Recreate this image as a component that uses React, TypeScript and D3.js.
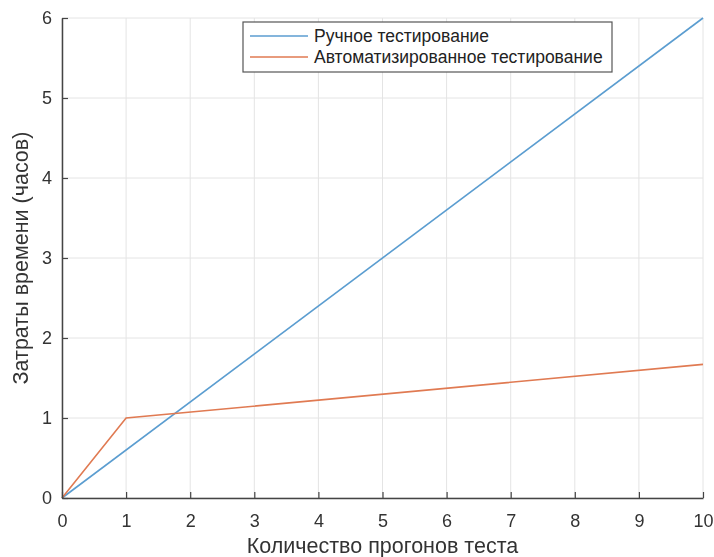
import React, { useRef, useEffect } from 'react';
import * as d3 from 'd3';

// data
const runs = [0, 1, 2, 3, 4, 5, 6, 7, 8, 9, 10];
const manualX = [0, 10];
const manualY = [0, 6];
const autoX = [0, 1, 10];
const autoY = [0, 1, 1.67];
const seriesNames = ['Ручное тестирование', 'Автоматизированное тестирование'];
const yTicks = [0, 1, 2, 3, 4, 5, 6];

const W = 714;
const H = 557;
const margin = { left: 62, right: 11, top: 18, bottom: 59 };
const colors = ['#5b9dd0', '#e07a52'];
const axisColor = '#444';
const font = '"Liberation Sans", Arial, sans-serif';

function Chart() {
    const ref = useRef<SVGSVGElement>(null);

    useEffect(() => {
        const svg = d3.select(ref.current);
        svg.selectAll('*').remove();

        const x = d3.scaleLinear().domain([0, 10]).range([margin.left, W - margin.right]);
        const y = d3.scaleLinear().domain([0, 6]).range([H - margin.bottom, margin.top]);

        // grid
        const grid = svg.append('g');
        grid.selectAll('line.vx').data(runs).enter().append('line')
            .attr('x1', d => x(d)).attr('x2', d => x(d))
            .attr('y1', y(0)).attr('y2', y(6))
            .attr('stroke', '#e4e4e4').attr('stroke-width', 1);
        grid.selectAll('line.hy').data(yTicks).enter().append('line')
            .attr('y1', d => y(d)).attr('y2', d => y(d))
            .attr('x1', x(0)).attr('x2', x(10))
            .attr('stroke', '#e4e4e4').attr('stroke-width', 1);

        // lines
        const ln = d3.line<[number, number]>().x(d => x(d[0])).y(d => y(d[1]));
        const series: [number, number][][] = [
            manualX.map((v, i) => [v, manualY[i]]),
            autoX.map((v, i) => [v, autoY[i]]),
        ];
        series.forEach((s, i) => {
            svg.append('path').datum(s)
                .attr('d', ln)
                .attr('fill', 'none')
                .attr('stroke', colors[i])
                .attr('stroke-width', 1.6);
        });

        // axes (ticks inward, MATLAB style)
        const xAxis = d3.axisBottom(x).tickValues(runs).tickFormat(d3.format('d')).tickSize(-6).tickPadding(16).tickSizeOuter(0);
        const yAxis = d3.axisLeft(y).tickValues(yTicks).tickFormat(d3.format('d')).tickSize(-6).tickPadding(10).tickSizeOuter(0);

        const gx = svg.append('g').attr('transform', `translate(0,${y(0)})`).call(xAxis);
        const gy = svg.append('g').attr('transform', `translate(${x(0)},0)`).call(yAxis);
        [gx, gy].forEach(g => {
            g.select('.domain').attr('stroke', axisColor).attr('stroke-width', 1.5);
            g.selectAll('.tick line').attr('stroke', axisColor).attr('stroke-width', 1.2);
            g.selectAll('.tick text')
                .attr('fill', '#333')
                .style('font-family', font)
                .style('font-size', '18px');
        });

        // axis titles
        svg.append('text')
            .attr('x', (x(0) + x(10)) / 2).attr('y', 553)
            .attr('text-anchor', 'middle')
            .style('font-family', font).style('font-size', '21.5px').attr('fill', '#333')
            .text('Количество прогонов теста');
        svg.append('text')
            .attr('transform', `translate(28,${(y(0) + y(6)) / 2}) rotate(-90)`)
            .attr('text-anchor', 'middle')
            .style('font-family', font).style('font-size', '21.5px').attr('fill', '#333')
            .text('Затраты времени (часов)');

        // legend
        const lg = svg.append('g').attr('transform', 'translate(243,22)');
        lg.append('rect').attr('width', 369).attr('height', 50)
            .attr('fill', '#fff').attr('stroke', '#555').attr('stroke-width', 1.2);
        seriesNames.forEach((name, i) => {
            const cy = 14 + i * 21;
            lg.append('line').attr('x1', 7).attr('x2', 65).attr('y1', cy).attr('y2', cy)
                .attr('stroke', colors[i]).attr('stroke-width', 1.6);
            lg.append('text').attr('x', 71).attr('y', cy + 6)
                .style('font-family', font).style('font-size', '17.5px').attr('fill', '#222')
                .text(name);
        });
    }, []);

    return (
        <svg ref={ref} width={W} height={H}
            style={{ position: 'fixed', left: 0, top: 0, display: 'block' }} />
    );
}

export default function App() {
    return <Chart />;
}
